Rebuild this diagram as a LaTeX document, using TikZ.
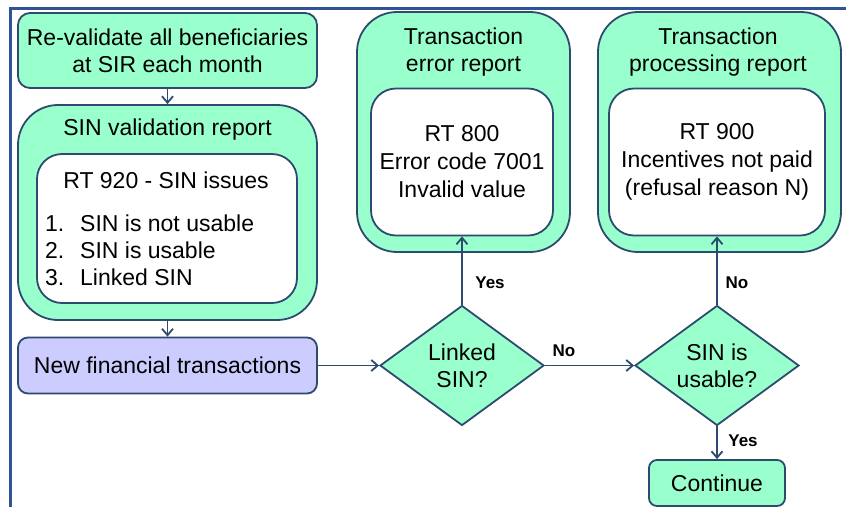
\documentclass[tikz,border=0pt]{standalone}
\usepackage{fontspec}
\setmainfont{Liberation Sans}
\usetikzlibrary{arrows.meta,shapes.geometric}
\definecolor{mint}{RGB}{153,255,204}
\definecolor{lav}{RGB}{204,204,255}
\definecolor{edgec}{RGB}{45,75,110}
\definecolor{framec}{RGB}{47,84,150}
\begin{document}
\begin{tikzpicture}[x=1pt,y=-1pt,
  box/.style={draw=edgec, line width=1.8pt, fill=mint, inner sep=0pt},
  whitebox/.style={draw=edgec, line width=1.8pt, fill=white, inner sep=0pt},
  txt/.style={font=\fontsize{23}{27}\selectfont, align=center, inner sep=0pt},
  txtb/.style={font=\fontsize{23}{28}\selectfont, align=center, inner sep=0pt},
  lbl/.style={font=\fontsize{17}{20}\selectfont\bfseries, inner sep=0pt},
  conn/.style={draw=edgec, line width=1.8pt, -{Straight Barb[length=6.5pt,width=11pt]}},
  decision/.style={diamond, draw=edgec, line width=1.8pt, fill=mint, minimum width=164pt, minimum height=120pt, inner sep=0pt, aspect=1.37}
]
\useasboundingbox (0,0) rectangle (846,507);
\draw[framec, line width=2.5pt] (10.5,507) -- (10.5,8.7) -- (846,8.7);

% left column
\node[box, txt, rounded corners=12pt, minimum width=299pt, minimum height=75pt] (reval) at (167.5,50.5) {Re-validate all beneficiaries\\at SIR each month};
\node[box, rounded corners=40pt, minimum width=299pt, minimum height=215pt] (sinrep) at (167.5,212.5) {};
\node[txt] (sintitle) at (167.5,129.5) {SIN validation report};
\node[whitebox, rounded corners=25pt, minimum width=260pt, minimum height=149pt] (sinin) at (167,228.5) {};
\node[txt] (rt920) at (166,180.5) {RT 920 - SIN issues};
\node[txt, anchor=west, align=left] (sinlist) at (45,250.5) {\makebox[35pt][l]{1.}SIN is not usable\\\makebox[35pt][l]{2.}SIN is usable\\\makebox[35pt][l]{3.}Linked SIN};
\node[box, txt, fill=lav, rounded corners=10pt, minimum width=299pt, minimum height=56pt] (newtx) at (167.5,365.5) {New financial transactions};

% error report
\node[box, rounded corners=40pt, minimum width=213pt, minimum height=240pt] (err) at (463.5,132) {};
\node[txt] (errtitle) at (463.5,52.5) {Transaction\\error report};
\node[whitebox, txtb, rounded corners=25pt, minimum width=182pt, minimum height=147pt] (errin) at (462,162) {RT 800\\Error code 7001\\Invalid value};

% processing report
\node[box, rounded corners=40pt, minimum width=243pt, minimum height=240pt] (proc) at (719.5,132) {};
\node[txt] (proctitle) at (718,52.5) {Transaction\\processing report};
\node[whitebox, txtb, rounded corners=25pt, minimum width=216pt, minimum height=147pt] (procin) at (717,162) {RT 900\\Incentives not paid\\(refusal reason N)};

% decisions
\node[decision, txt] (d1) at (462,365.5) {Linked\\SIN?};
\node[decision, txt] (d2) at (717,365.5) {SIN is\\usable?};
\node[box, txt, rounded corners=8pt, minimum width=136pt, minimum height=46pt] (cont) at (717,483) {Continue};

% connectors
\draw[conn] (reval) -- (sinrep);
\draw[conn] (sinrep) -- (newtx);
\draw[conn] (newtx) -- (d1);
\draw[conn] (d1) -- (errin);
\draw[conn] (d1) -- (d2);
\draw[conn] (d2) -- (procin);
\draw[conn] (d2) -- (cont);

\node[lbl] (yes1) at (490,283) {Yes};
\node[lbl] (no1) at (564,351) {No};
\node[lbl] (no2) at (737,283) {No};
\node[lbl] (yes2) at (743,441) {Yes};
\end{tikzpicture}
\end{document}
